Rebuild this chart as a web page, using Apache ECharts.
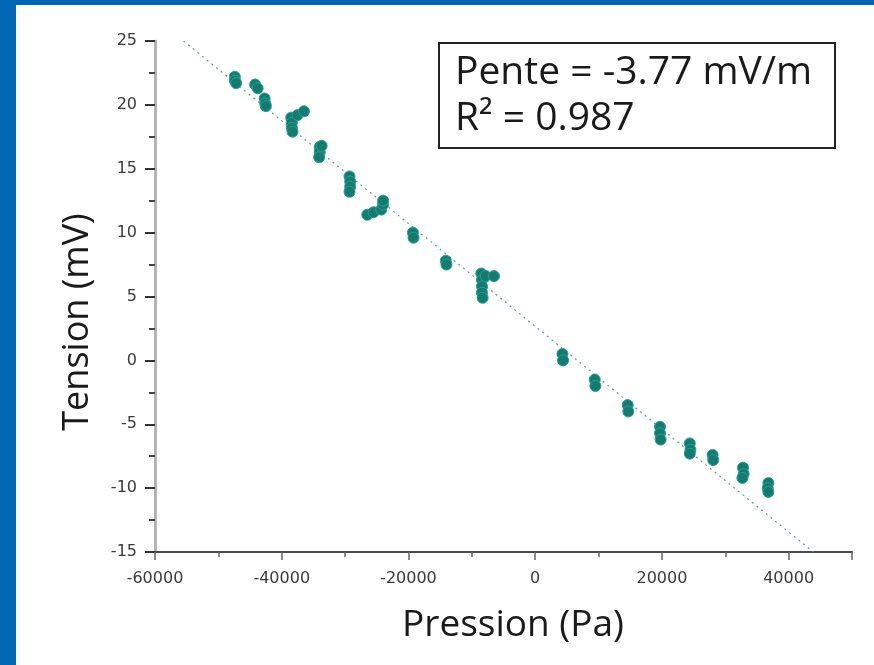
<!DOCTYPE html>
<html>
<head>
<meta charset="utf-8">
<script src="https://cdn.jsdelivr.net/npm/echarts@6/dist/echarts.min.js"></script>
<style>
html,body{margin:0;padding:0;background:#fff;}
#chart{width:874px;height:665px;}
</style>
</head>
<body>
<div id="chart"></div>
<script>
// Measured points: [pression (Pa), tension (mV)]
var pointsX = [
  -47400,-47400,-47200,
  -44200,-43800,
  -42700,-42600,-42500,
  -38500,-38400,-38400,-38300,
  -37500,-36500,
  -34000,-34000,-34100,-33700,
  -29300,-29200,-29200,-29300,
  -26500,-25500,-24300,-24000,-24000,
  -19300,-19200,
  -14100,-14000,
  -8500,-8400,-8400,-8400,-8300,
  -7800,-6500,
  4300,4400,
  9400,9500,
  14600,14700,
  19700,19700,19800,
  24400,24500,24400,
  28000,28100,
  32800,32900,32700,
  36800,36700,36800
];
var pointsY = [
  22.2,21.9,21.7,
  21.6,21.3,
  20.5,20.1,19.9,
  19.0,18.6,18.2,17.9,
  19.2,19.5,
  16.7,16.3,15.9,16.8,
  14.4,14.0,13.6,13.2,
  11.4,11.6,11.8,12.2,12.5,
  10.0,9.6,
  7.8,7.5,
  6.8,6.3,5.8,5.3,4.9,
  6.6,6.6,
  0.5,0.0,
  -1.5,-2.0,
  -3.5,-4.0,
  -5.2,-5.7,-6.2,
  -6.5,-7.0,-7.3,
  -7.4,-7.8,
  -8.4,-8.9,-9.2,
  -9.6,-10.0,-10.3
];
// Linear fit line endpoints
var fitX = [-55500, 43900];
var fitY = [25, -15];

var xTicks = [-60000, -40000, -20000, 0, 20000, 40000];
var yTicks = [-15, -10, -5, 0, 5, 10, 15, 20, 25];
var boxLines = ['Pente = -3.77 mV/m', 'R\u00b2 = 0.987'];
var xTitle = 'Pression (Pa)';
var yTitle = 'Tension (mV)';

var scatterData = pointsX.map(function (x, i) { return [x, pointsY[i]]; });
var fitData = fitX.map(function (x, i) { return [x, fitY[i]]; });

var chart = echarts.init(document.getElementById('chart'), null, {renderer: 'canvas'});
var titleFont = '"Open Sans", "Noto Sans", sans-serif';
chart.setOption({
  animation: false,
  backgroundColor: '#ffffff',
  grid: {left: 155, right: 22, top: 41, bottom: 113, containLabel: false},
  xAxis: {
    type: 'value', min: -60000, max: 50000, interval: 20000,
    axisLine: {show: true, onZero: false, lineStyle: {color: '#4a4a4a', width: 2}},
    axisTick: {show: true, length: 8, lineStyle: {color: '#666', width: 1.5}},
    minorTick: {show: true, splitNumber: 2, length: 5, lineStyle: {color: '#666', width: 1.5}},
    splitLine: {show: false},
    axisLabel: {
      color: '#3a3a3a', fontSize: 16, margin: 19, fontFamily: '"DejaVu Sans", sans-serif',
      showMaxLabel: false,
      formatter: function (v) { return xTicks.indexOf(v) >= 0 ? String(v) : ''; }
    }
  },
  yAxis: {
    type: 'value', min: -15, max: 25, interval: 5,
    axisLine: {show: true, onZero: false, lineStyle: {color: '#b4b4b4', width: 3}},
    axisTick: {show: true, length: 10, lineStyle: {color: '#333', width: 2}},
    minorTick: {show: true, splitNumber: 2, length: 6, lineStyle: {color: '#444', width: 2}},
    splitLine: {show: false},
    axisLabel: {
      color: '#3a3a3a', fontSize: 16, margin: 18, fontFamily: '"DejaVu Sans", sans-serif',
      formatter: function (v) { return yTicks.indexOf(v) >= 0 ? String(v) : ''; }
    }
  },
  series: [
    {
      type: 'line', data: fitData, showSymbol: false, symbol: 'none', clip: true,
      lineStyle: {color: '#5f9c9a', width: 1.2, type: [2, 4]}, z: 1
    },
    {
      type: 'scatter', data: scatterData, symbol: 'circle', symbolSize: 11,
      itemStyle: {color: '#157a70', borderColor: '#27a095', borderWidth: 1, opacity: 1}, z: 2
    }
  ],
  graphic: [
    {type: 'rect', left: 0, top: 0, shape: {width: 16, height: 665}, style: {fill: '#0067b2'}, z: 10},
    {type: 'rect', left: 0, top: 0, shape: {width: 874, height: 5}, style: {fill: '#0067b2'}, z: 10},
    {type: 'rect', left: 438, top: 42, shape: {width: 396, height: 105},
      style: {fill: '#ffffff', stroke: '#222', lineWidth: 2}, z: 5},
    {type: 'text', x: 455, y: 73, style: {text: boxLines[0], font: '39px ' + titleFont, fill: '#1a1a1a', align: 'left', verticalAlign: 'middle'}, z: 6},
    {type: 'text', x: 455, y: 119, style: {text: boxLines[1], font: '39px ' + titleFont, fill: '#1a1a1a', align: 'left', verticalAlign: 'middle'}, z: 6},
    {type: 'text', x: 513, y: 625, style: {text: xTitle, font: '37px ' + titleFont, fill: '#1a1a1a', align: 'center', verticalAlign: 'middle'}, z: 6},
    {type: 'text', x: 78, y: 322, rotation: Math.PI / 2, style: {text: yTitle, font: '36px ' + titleFont, fill: '#1a1a1a', align: 'center', verticalAlign: 'middle'}, z: 6}
  ]
});
</script>
</body>
</html>
